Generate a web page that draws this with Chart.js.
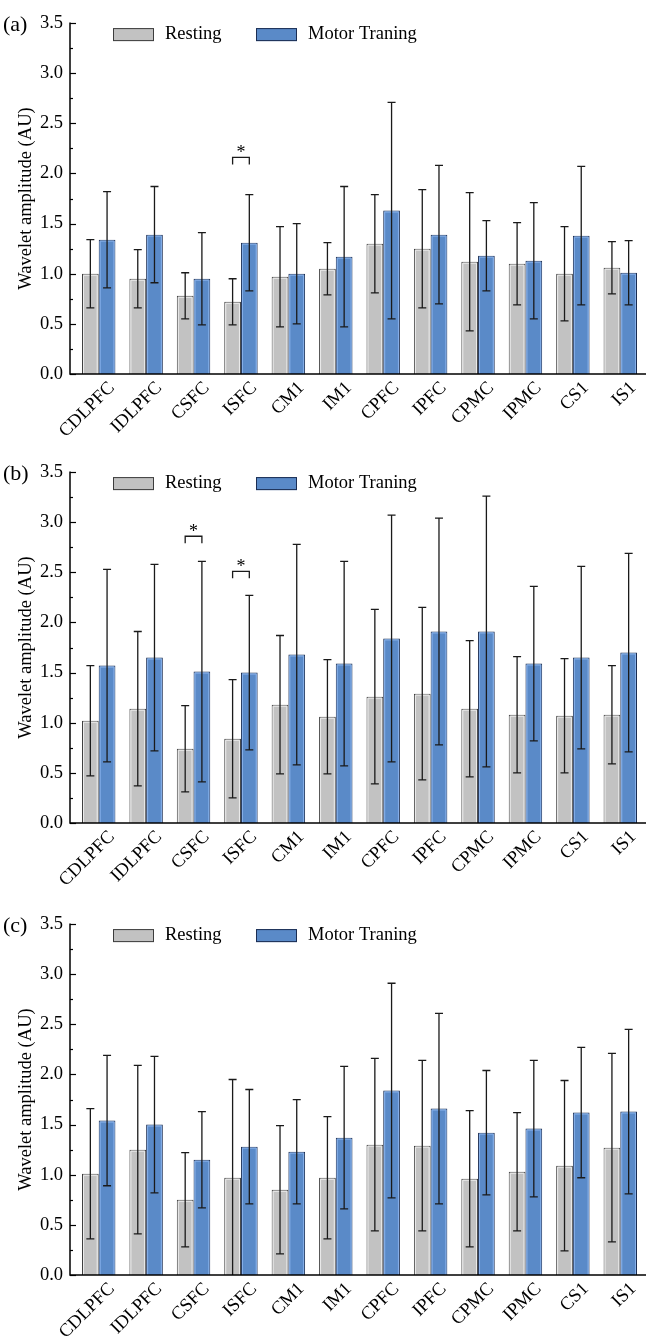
<!DOCTYPE html>
<html>
<head>
<meta charset="utf-8">
<script src="https://cdn.jsdelivr.net/npm/chart.js@4.4.1/dist/chart.umd.min.js"></script>
<style>
  html, body { margin: 0; padding: 0; background: #fff; overflow: hidden; }
  .panel { position: absolute; left: 0; width: 646px; height: 440px; }
</style>
</head>
<body>
<div class="panel" style="top:0px"><canvas id="chartA"></canvas></div>
<div class="panel" style="top:449px"><canvas id="chartB"></canvas></div>
<div class="panel" style="top:901px"><canvas id="chartC"></canvas></div>
<script>
// brain regions on the x axis
const regions = ['CDLPFC', 'IDLPFC', 'CSFC', 'ISFC', 'CM1', 'IM1', 'CPFC', 'IPFC', 'CPMC', 'IPMC', 'CS1', 'IS1'];
const seriesNames = ['Resting', 'Motor Traning'];

// (a)
const restingA    = [1.00, 0.95, 0.78, 0.72, 0.97, 1.05, 1.30, 1.25, 1.12, 1.10, 1.00, 1.06];
const restingSdA  = [0.34, 0.29, 0.23, 0.23, 0.50, 0.26, 0.49, 0.59, 0.69, 0.41, 0.47, 0.26];
const trainingA   = [1.34, 1.39, 0.95, 1.31, 1.00, 1.17, 1.63, 1.39, 1.18, 1.13, 1.38, 1.01];
const trainingSdA = [0.48, 0.48, 0.46, 0.48, 0.50, 0.70, 1.08, 0.69, 0.35, 0.58, 0.69, 0.32];
const starIdxA = [3];
const starYA   = [2.16];

// (b)
const restingB    = [1.02, 1.14, 0.74, 0.84, 1.18, 1.06, 1.26, 1.29, 1.14, 1.08, 1.07, 1.08];
const restingSdB  = [0.55, 0.77, 0.43, 0.59, 0.69, 0.57, 0.87, 0.86, 0.68, 0.58, 0.57, 0.49];
const trainingB   = [1.57, 1.65, 1.51, 1.50, 1.68, 1.59, 1.84, 1.91, 1.91, 1.59, 1.65, 1.70];
const trainingSdB = [0.96, 0.93, 1.10, 0.77, 1.10, 1.02, 1.23, 1.13, 1.35, 0.77, 0.91, 0.99];
const starIdxB = [2, 3];
const starYB   = [2.86, 2.51];

// (c)
const restingC    = [1.01, 1.25, 0.75, 0.97, 0.85, 0.97, 1.30, 1.29, 0.96, 1.03, 1.09, 1.27];
const restingSdC  = [0.65, 0.84, 0.47, 0.98, 0.64, 0.61, 0.86, 0.85, 0.68, 0.59, 0.85, 0.94];
const trainingC   = [1.54, 1.50, 1.15, 1.28, 1.23, 1.37, 1.84, 1.66, 1.42, 1.46, 1.62, 1.63];
const trainingSdC = [0.65, 0.68, 0.48, 0.57, 0.52, 0.71, 1.07, 0.95, 0.62, 0.68, 0.65, 0.82];
const starIdxC = [];
const starYC   = [];

const FONT = '"Liberation Serif", "Times New Roman", serif';
const grayFill = '#c2c2c2', grayLine = '#3c3c3c', grayHi = '#ececec';
const blueFill = '#5a8ac8', blueLine = '#1b2d52', blueHi = '#86b0ea';

// error bars, axes, legend, panel tag and significance marks
const decorPlugin = {
  id: 'decor',
  afterDatasetsDraw(chart) {
    const ctx = chart.ctx;
    const y = chart.scales.y;
    const hi = [grayHi, blueHi];
    ctx.save();
    // light inner edge of each bar
    ctx.lineWidth = 1;
    chart.data.datasets.forEach((ds, di) => {
      ctx.strokeStyle = hi[di];
      chart.getDatasetMeta(di).data.forEach((bar) => {
        const l = bar.x - bar.width / 2 + 1.5, r = bar.x + bar.width / 2 - 1.5;
        ctx.beginPath();
        ctx.moveTo(l, bar.base);
        ctx.lineTo(l, bar.y + 1.5);
        ctx.lineTo(r, bar.y + 1.5);
        ctx.lineTo(r, bar.base);
        ctx.stroke();
      });
    });
    ctx.strokeStyle = '#1a1a1a';
    ctx.lineWidth = 1.3;
    chart.data.datasets.forEach((ds, di) => {
      chart.getDatasetMeta(di).data.forEach((bar, i) => {
        const m = ds.data[i], sd = ds.sd[i];
        const yTop = y.getPixelForValue(m + sd);
        const yLow = y.getPixelForValue(Math.max(m - sd, 0));
        ctx.beginPath();
        ctx.moveTo(bar.x, yTop);
        ctx.lineTo(bar.x, yLow);
        ctx.moveTo(bar.x - 4, yTop);
        ctx.lineTo(bar.x + 4, yTop);
        if (m - sd > 0) {
          ctx.moveTo(bar.x - 4, yLow);
          ctx.lineTo(bar.x + 4, yLow);
        }
        ctx.stroke();
      });
    });
    ctx.restore();
  },
  afterDraw(chart, args, opts) {
    const ctx = chart.ctx;
    const x = chart.scales.x;
    const y = chart.scales.y;
    const area = chart.chartArea;
    const axisX = 70;
    ctx.save();
    ctx.strokeStyle = '#000';
    ctx.lineWidth = 1.5;
    ctx.beginPath();
    ctx.moveTo(axisX, area.top - 0.5);
    ctx.lineTo(axisX, area.bottom);
    ctx.lineTo(chart.width, area.bottom);
    ctx.stroke();
    // inward ticks, major every 0.5 and minor between
    ctx.lineWidth = 1.2;
    for (let v = 0; v <= 3.5001; v += 0.25) {
      const py = Math.round(y.getPixelForValue(v)) + 0.5;
      const len = (Math.round(v * 4) % 2 === 0) ? 6 : 3;
      ctx.beginPath();
      ctx.moveTo(axisX, py);
      ctx.lineTo(axisX + len, py);
      ctx.stroke();
    }
    // rotated category labels
    ctx.fillStyle = '#000';
    ctx.font = '18.5px ' + FONT;
    ctx.textAlign = 'right';
    ctx.textBaseline = 'middle';
    chart.data.labels.forEach((lab, i) => {
      const px = x.getPixelForTick(i);
      ctx.save();
      ctx.translate(px + 13, area.bottom + 11);
      ctx.rotate(-Math.PI / 4);
      ctx.fillText(lab, 0, 0);
      ctx.restore();
    });
    // panel tag
    ctx.font = '22px ' + FONT;
    ctx.textAlign = 'left';
    ctx.fillText(opts.tag, 3, area.top + 2);
    // legend
    const ly = area.top + 5;
    const items = [[113, grayFill, grayLine], [256, blueFill, blueLine]];
    ctx.font = '18.5px ' + FONT;
    items.forEach((it, k) => {
      ctx.fillStyle = it[1];
      ctx.fillRect(it[0], ly, 41, 13);
      ctx.strokeStyle = it[2];
      ctx.lineWidth = 1;
      ctx.strokeRect(it[0] + 0.5, ly + 0.5, 40, 12);
      ctx.fillStyle = '#000';
      ctx.fillText(chart.data.datasets[k].label, it[0] + 52, ly + 6.5);
    });
    // significance brackets
    const m0 = chart.getDatasetMeta(0).data, m1 = chart.getDatasetMeta(1).data;
    ctx.strokeStyle = '#1a1a1a';
    ctx.lineWidth = 1.3;
    opts.starIdx.forEach((idx, k) => {
      const py = y.getPixelForValue(opts.starY[k]);
      const x0 = m0[idx].x, x1 = m1[idx].x;
      ctx.beginPath();
      ctx.moveTo(x0, py + 7);
      ctx.lineTo(x0, py);
      ctx.lineTo(x1, py);
      ctx.lineTo(x1, py + 7);
      ctx.stroke();
      ctx.fillStyle = '#000';
      ctx.textAlign = 'center';
      ctx.font = '18px ' + FONT;
      ctx.fillText('*', (x0 + x1) / 2, py - 4);
    });
    ctx.restore();
  }
};

function makeChart(id, tag, resting, restingSd, training, trainingSd, starIdx, starY) {
  return new Chart(document.getElementById(id), {
    type: 'bar',
    data: {
      labels: regions,
      datasets: [{
        label: seriesNames[0],
        data: resting,
        sd: restingSd,
        backgroundColor: grayFill,
        borderColor: grayLine,
        borderWidth: 1
      }, {
        label: seriesNames[1],
        data: training,
        sd: trainingSd,
        backgroundColor: blueFill,
        borderColor: blueLine,
        borderWidth: 1
      }]
    },
    options: {
      responsive: true,
      maintainAspectRatio: false,
      animation: false,
      layout: { padding: { top: 12, right: 2, left: 0, bottom: 0 } },
      datasets: { bar: { categoryPercentage: 0.705, barPercentage: 1.0 } },
      plugins: {
        legend: { display: false },
        tooltip: { enabled: false },
        decor: { tag: tag, starIdx: starIdx, starY: starY }
      },
      scales: {
        x: {
          afterFit: (s) => { s.height = 66; },
          grid: { display: false, drawTicks: false },
          border: { display: false },
          ticks: { display: false, autoSkip: false }
        },
        y: {
          min: 0,
          max: 3.5,
          afterFit: (s) => { s.width = 75; },
          grid: { display: false, drawTicks: false },
          border: { display: false },
          ticks: {
            stepSize: 0.5,
            padding: 12,
            color: '#000',
            font: { family: FONT, size: 18.5 },
            callback: (v) => v.toFixed(1)
          },
          title: {
            display: true,
            text: 'Wavelet amplitude (AU)',
            color: '#000',
            padding: { top: 15, bottom: 0 },
            font: { family: FONT, size: 18.5 }
          }
        }
      }
    },
    plugins: [decorPlugin]
  });
}

makeChart('chartA', '(a)', restingA, restingSdA, trainingA, trainingSdA, starIdxA, starYA);
makeChart('chartB', '(b)', restingB, restingSdB, trainingB, trainingSdB, starIdxB, starYB);
makeChart('chartC', '(c)', restingC, restingSdC, trainingC, trainingSdC, starIdxC, starYC);
</script>
</body>
</html>
